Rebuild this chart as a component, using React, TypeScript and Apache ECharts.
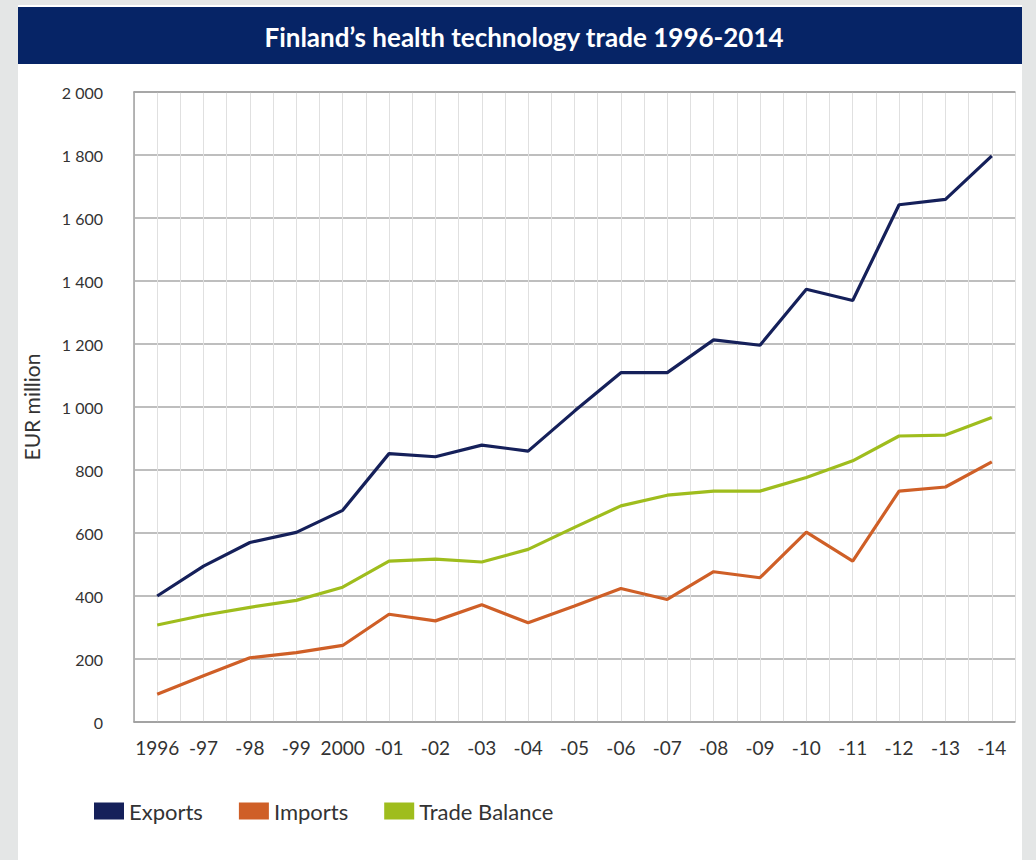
import React, { useEffect, useRef } from "react";
import * as echarts from "echarts";

const years = ["1996", "-97", "-98", "-99", "2000", "-01", "-02", "-03", "-04", "-05", "-06", "-07", "-08", "-09", "-10", "-11", "-12", "-13", "-14"];
const exportsData = [400, 495, 570, 602, 672, 852, 842, 879, 860, 987, 1109, 1109, 1213, 1196, 1374, 1338, 1642, 1659, 1797];
const importsData = [88, 147, 204, 220, 243, 342, 321, 372, 315, 368, 424, 389, 477, 458, 603, 511, 733, 746, 826];
const balanceData = [308, 339, 364, 386, 428, 511, 517, 508, 548, 618, 686, 720, 733, 733, 776, 829, 908, 911, 967];
const yTicks = [0, 200, 400, 600, 800, 1000, 1200, 1400, 1600, 1800, 2000];
const yTickLabels = ["0", "200", "400", "600", "800", "1 000", "1 200", "1 400", "1 600", "1 800", "2 000"];

const title = "Finland\u2019s health technology trade 1996-2014";

export default function App() {
  const ref = useRef<HTMLDivElement>(null);
  useEffect(() => {
    if (!ref.current) return;
    const chart = echarts.init(ref.current, null, { renderer: "svg" });
    const font = "Lato, 'Open Sans', sans-serif";
    chart.setOption({
      animation: false,
      backgroundColor: "#e4e6e6",
      graphic: [
        { type: "rect", z: -10, shape: { x: 18, y: 5, width: 1004, height: 860 }, style: { fill: "#ffffff" } },
        { type: "rect", z: -5, shape: { x: 18, y: 7, width: 1004, height: 57 }, style: { fill: "#062466" } },
        {
          type: "text", z: 10, x: 524, y: 37,
          style: { text: title, fill: "#ffffff", font: `bold 26px ${font}`, textAlign: "center", textVerticalAlign: "middle" },
        },
      ],
      grid: { left: 134, right: 21, top: 92, bottom: 138, containLabel: false },
      legend: {
        left: 89, top: 795,
        icon: "rect", itemWidth: 30, itemHeight: 17, itemGap: 36, itemStyle: { borderWidth: 0 },
        textStyle: { fontSize: 22, color: "#333", fontFamily: font },
        data: ["Exports", "Imports", "Trade Balance"],
      },
      xAxis: [
        {
          type: "category", data: years, boundaryGap: true,
          axisLine: { show: true, lineStyle: { color: "#9a9a9a", width: 1.5 } },
          axisTick: { show: false },
          axisLabel: { fontSize: 19, color: "#333", margin: 16, fontFamily: font, interval: 0 },
          splitLine: { show: true, lineStyle: { color: "#cccccc", width: 1 } },
        },
        {
          type: "value", min: 0, max: 19, interval: 0.5, show: true, position: "top",
          axisLine: { show: true, lineStyle: { color: "#a0a0a0", width: 1.5 } },
          axisTick: { show: false }, axisLabel: { show: false },
          splitLine: { show: true, lineStyle: { color: "#e0e0e0", width: 1 } },
        },
      ],
      yAxis: {
        type: "value", min: 0, max: 2000, interval: 200,
        name: "EUR million", nameLocation: "middle", nameGap: 92, nameRotate: 90,
        nameTextStyle: { fontSize: 21, color: "#333", fontFamily: font },
        axisLine: { show: true, lineStyle: { color: "#a0a0a0", width: 1.5 } },
        axisTick: { show: false },
        axisLabel: {
          fontSize: 16, color: "#333", margin: 31, fontFamily: font,
          formatter: (v: number) => yTickLabels[yTicks.indexOf(v)] ?? String(v),
        },
        splitLine: { show: true, lineStyle: { color: "#a8a8a8", width: 1.5 } },
      },
      series: [
        { name: "Exports", type: "line", data: exportsData, symbol: "none", color: "#15205a", lineStyle: { width: 3.2, color: "#15205a" } },
        { name: "Imports", type: "line", data: importsData, symbol: "none", color: "#cf5f27", lineStyle: { width: 3.2, color: "#cf5f27" } },
        { name: "Trade Balance", type: "line", data: balanceData, symbol: "none", color: "#9fbd1d", lineStyle: { width: 3.2, color: "#9fbd1d" } },
      ],
    });
    return () => chart.dispose();
  }, []);
  return <div ref={ref} style={{ position: "fixed", left: 0, top: 0, width: 1036, height: 860 }} />;
}
